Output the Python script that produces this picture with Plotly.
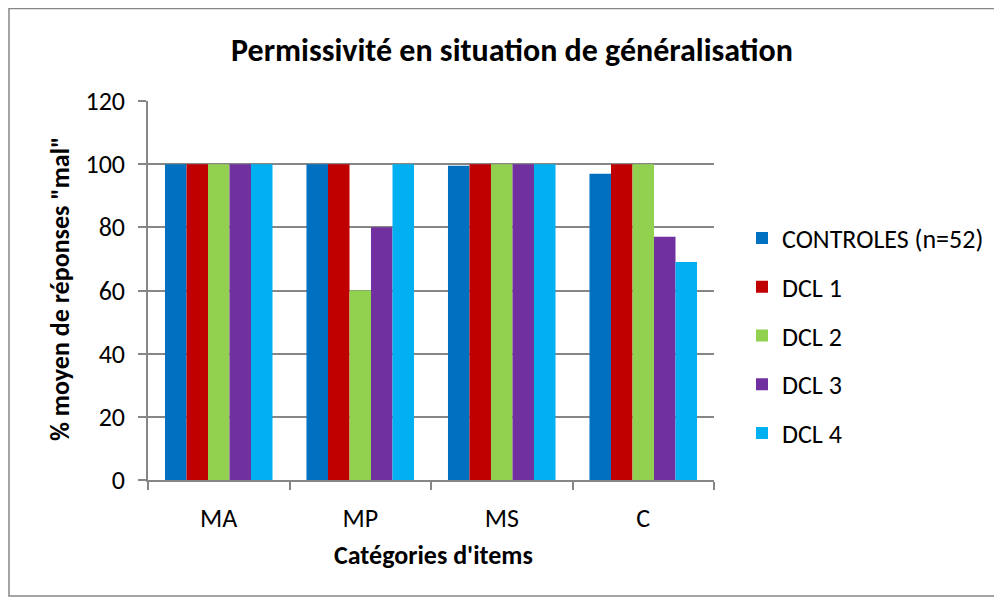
import plotly.graph_objects as go

# chart data
categories = ["MA", "MP", "MS", "C"]
series_names = ["CONTROLES (n=52)", "DCL 1", "DCL 2", "DCL 3", "DCL 4"]
controles = [100, 100, 99.5, 97]
dcl1 = [100, 100, 100, 100]
dcl2 = [100, 60, 100, 100]
dcl3 = [100, 80, 100, 77]
dcl4 = [100, 100, 100, 69]
colors = ["#0070C0", "#C00000", "#92D050", "#7030A0", "#00B0F0"]

# page has an 8px body margin, so the figure is drawn 8px smaller
W, H = 994, 590
L, R, T, B = 140, 706, 93, 472
pw, ph = R - L, B - T

fig = go.Figure()
for i, (name, vals) in enumerate(zip(series_names, [controles, dcl1, dcl2, dcl3, dcl4])):
    fig.add_trace(go.Bar(x=categories, y=vals, name=name, marker_color=colors[i],
                         marker_line_width=0, legendgroup=str(i)))

font = "Carlito, Lato, sans-serif"
grey = "#868686"
fig.update_layout(
    width=W, height=H,
    margin=dict(l=L, r=W - R, t=T, b=H - B),
    paper_bgcolor="white", plot_bgcolor="white",
    barmode="group", bargap=0.24, bargroupgap=0,
    font=dict(family=font, size=26, color="black"),
    title=dict(text="<b>Permissivité en situation de généralisation</b>",
               x=0.507, xanchor="center", y=1 - 42 / H, yanchor="middle",
               font=dict(size=32)),
    legend=dict(x=(734 - L) / pw, xanchor="left", y=0.38, yanchor="middle",
                font=dict(size=26), tracegroupgap=12, itemwidth=30),
    showlegend=True,
)
fig.update_xaxes(showline=True, linecolor=grey, linewidth=1.5,
                 ticks="outside", tickson="boundaries", ticklen=8, tickcolor=grey, tickwidth=1.5,
                 ticklabelstandoff=14)
fig.update_yaxes(range=[0, 120], dtick=20, showgrid=True, gridcolor=grey, gridwidth=1.5,
                 zeroline=False, showline=True, linecolor=grey, linewidth=1.5,
                 ticks="outside", ticklen=8, tickcolor=grey, tickwidth=1.5,
                 ticklabelstandoff=8)

# axis titles
fig.add_annotation(text="<b>Catégories d'items</b>", xref="paper", yref="paper",
                   x=(425 - L) / pw, y=(B - 547) / ph, showarrow=False,
                   xanchor="center", yanchor="middle", font=dict(size=26))
fig.add_annotation(text='<b>% moyen de réponses "mal"</b>', xref="paper", yref="paper",
                   x=(52 - L) / pw, y=(B - 281) / ph, showarrow=False, textangle=-90,
                   xanchor="center", yanchor="middle", font=dict(size=26))

# outer chart border
fig.add_shape(type="rect", xref="paper", yref="paper",
              x0=(1 - L) / pw, x1=(992 - L) / pw,
              y0=(B - 588) / ph, y1=(B - 0.5) / ph,
              line=dict(color=grey, width=1.5))

fig.write_html("out.html")
